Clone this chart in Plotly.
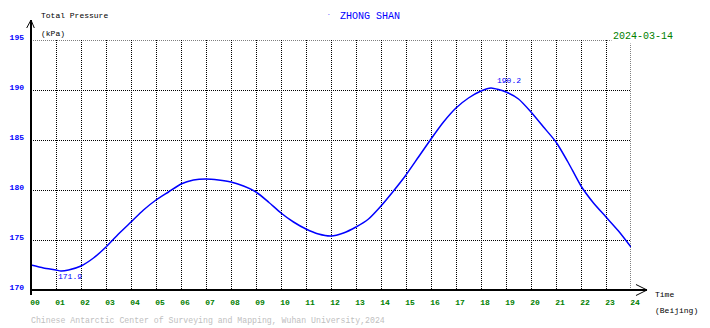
import plotly.graph_objects as go

# ---- data ----
hours = [0, 0.5, 1, 1.2, 1.5, 2, 2.5, 3, 3.5, 4, 4.5, 5, 5.5, 6, 6.5, 7, 7.5, 8, 8.5,
         9, 9.5, 10, 10.5, 11, 11.5, 12, 12.5, 13, 13.5, 14, 14.5, 15, 15.5, 16, 16.5,
         17, 17.5, 18, 18.4, 19, 19.5, 20, 20.5, 21, 21.5, 22, 22.5, 23, 23.5, 24]
pressure = [172.5, 172.2, 172.0, 171.9, 172.0, 172.4, 173.2, 174.3, 175.6, 176.8, 178.0,
            179.0, 179.8, 180.6, 181.0, 181.1, 181.0, 180.8, 180.4, 179.8, 178.8, 177.7,
            176.8, 176.1, 175.6, 175.4, 175.7, 176.3, 177.1, 178.4, 179.9, 181.5, 183.3,
            185.1, 186.8, 188.2, 189.2, 189.9, 190.2, 189.8, 189.1, 187.8, 186.3, 184.8,
            182.7, 180.4, 178.7, 177.3, 175.9, 174.3]
x_tick_vals = list(range(0, 25))
x_tick_text = [f"{h:02d}" for h in x_tick_vals]
y_tick_vals = [170, 175, 180, 185, 190, 195]
station = "ZHONG SHAN"
date_label = "2024-03-14"
credit = "Chinese Antarctic Center of Surveying and Mapping, Wuhan University,2024"

MONO = "Liberation Mono, DejaVu Sans Mono, monospace"
BLUE = "#0000ff"
GREEN = "#008000"

fig = go.Figure()
fig.add_trace(go.Scatter(x=hours, y=pressure, mode="lines",
                         line=dict(color=BLUE, width=1.5, shape="spline", smoothing=0.6),
                         hoverinfo="skip", showlegend=False, cliponaxis=False))

i_min = pressure.index(min(pressure))
i_max = pressure.index(max(pressure))

fig.update_layout(
    width=710, height=328,
    margin=dict(l=31, r=79, t=40, b=38, autoexpand=False),
    paper_bgcolor="white", plot_bgcolor="white",
    xaxis=dict(range=[0, 24], tickvals=x_tick_vals, ticktext=x_tick_text,
               showgrid=True, gridcolor="black", gridwidth=1, griddash="1px,1px",
               zeroline=False, showline=False, ticks="", automargin=False,
               ticklabelshift=4, ticklabelstandoff=6,
               tickfont=dict(family=MONO, size=8, color=GREEN, weight="bold")),
    yaxis=dict(range=[170, 195], tickvals=y_tick_vals,
               showgrid=True, gridcolor="black", gridwidth=1, griddash="1px,1px",
               zeroline=False, showline=False, ticks="", automargin=False,
               ticklabelshift=-3, ticklabelstandoff=6,
               tickfont=dict(family=MONO, size=8, color=BLUE, weight="bold")),
)

# grid lines on the upper and right edges of the plot area
grid_k = dict(color="black", width=1, dash="1px,1px")
fig.add_shape(type="line", xref="x", yref="y", x0=0, x1=24, y0=195, y1=195, line=grid_k)
fig.add_shape(type="line", xref="x", yref="y", x0=24, x1=24, y0=170, y1=195, line=grid_k)

# axes with open arrowheads
line_k = dict(color="black", width=2)
fig.add_shape(type="line", xref="paper", yref="paper", x0=0, y0=-0.02, x1=0, y1=1.08, line=line_k)
fig.add_shape(type="path", xref="paper", yref="paper",
              path="M -0.0072 1.048 L 0 1.08 L 0.0055 1.048", line=dict(color="black", width=1))
fig.add_shape(type="line", xref="paper", yref="paper", x0=0, y0=0, x1=1.0267, y1=0, line=line_k)
fig.add_shape(type="path", xref="paper", yref="paper",
              path="M 1.0083 0.022 L 1.0267 0 L 1.0083 -0.022", line=dict(color="black", width=1))

def txt(x, y, s, color="black", size=8, xanchor="left", bg=None):
    fig.add_annotation(x=x, y=y, xref="paper", yref="paper", text=s, showarrow=False,
                       xanchor=xanchor, yanchor="middle", bgcolor=bg,
                       font=dict(family=MONO, size=size, color=color))

txt(0.014, 1.096, "Total Pressure")
txt(0.014, 1.024, "(kPa)")
txt(0.5658, 1.092, station, color=BLUE, size=10, xanchor="center")
txt(0.497, 1.10, "·", color=BLUE, size=6, xanchor="center")
txt(0.967, 1.014, date_label, color=GREEN, size=10, bg="white")
txt(1.037, -0.016, "Time")
txt(1.037, -0.08, "(Beijing)")
txt(-0.004, -0.122, credit, color="#c0c0c0", size=8.2)

# extreme-value labels
fig.add_annotation(x=hours[i_min], y=pressure[i_min], text=f"{pressure[i_min]:.1f}",
                   showarrow=False, xanchor="left", yanchor="top", xshift=-5, yshift=1,
                   font=dict(family=MONO, size=8, color=BLUE))
fig.add_annotation(x=hours[i_max], y=pressure[i_max], text=f"{pressure[i_max]:.1f}",
                   showarrow=False, xanchor="left", yanchor="bottom", xshift=4, yshift=1,
                   font=dict(family=MONO, size=8, color=BLUE))

fig.write_html("out.html")
